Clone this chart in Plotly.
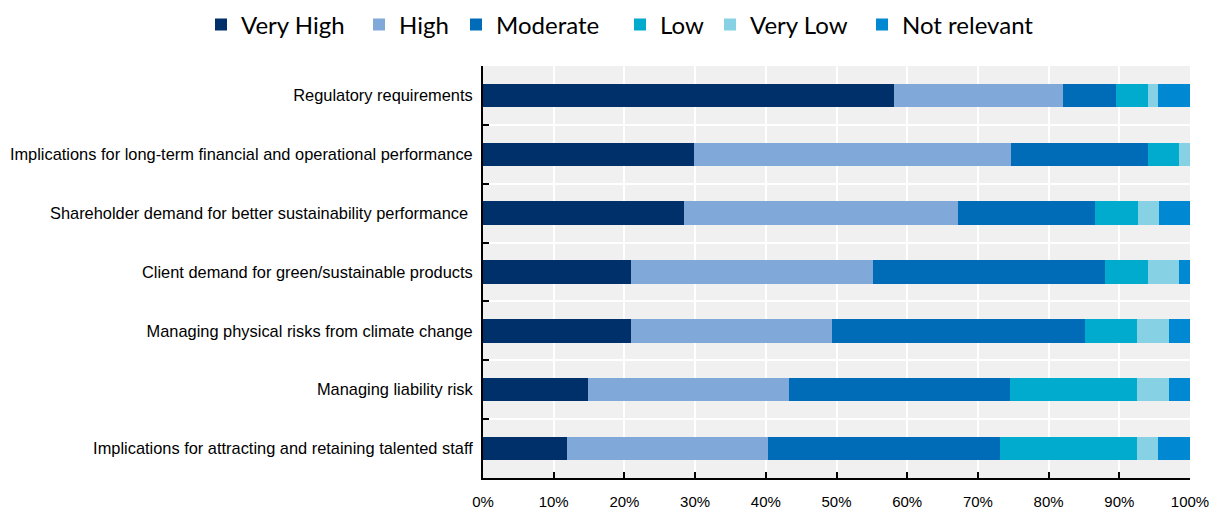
import plotly.graph_objects as go

# Drivers of sustainability integration, share of respondents (%)
categories = [
    "Regulatory requirements",
    "Implications for long-term financial and operational performance",
    "Shareholder demand for better sustainability performance ",
    "Client demand for green/sustainable products",
    "Managing physical risks from climate change",
    "Managing liability risk",
    "Implications for attracting and retaining talented staff",
]

very_high = [58.2, 29.9, 28.4, 20.9, 20.9, 14.9, 11.9]
high = [23.9, 44.8, 38.8, 34.3, 28.4, 28.4, 28.4]
moderate = [7.4, 19.4, 19.4, 32.8, 35.8, 31.3, 32.8]
low = [4.5, 4.4, 6.0, 6.0, 7.4, 17.9, 19.4]
very_low = [1.5, 1.5, 3.0, 4.5, 4.5, 4.5, 3.0]
not_relevant = [4.5, 0.0, 4.4, 1.5, 3.0, 3.0, 4.5]

series = [
    ("Very High", very_high, "#00306A"),
    ("High", high, "#80A8D9"),
    ("Moderate", moderate, "#006CB7"),
    ("Low", low, "#00ABCD"),
    ("Very Low", very_low, "#86D1E4"),
    ("Not relevant", not_relevant, "#0089D2"),
]

# Left edge (px) of each legend entry across the top of the figure
legend_left_px = [201, 359, 456, 620, 710, 862]

W, H = 1212, 511
M_L, M_R, M_T, M_B = 483, 22, 66, 33
plot_w = W - M_L - M_R
plot_h = H - M_T - M_B

label_font = "Liberation Sans, Arial, sans-serif"

fig = go.Figure()
legend_layouts = {}
for i, (name, values, color) in enumerate(series):
    key = "legend" if i == 0 else f"legend{i + 1}"
    fig.add_trace(go.Bar(
        name=name,
        x=values,
        y=categories,
        orientation="h",
        width=0.4,
        marker=dict(color=color, line=dict(width=0)),
        legend=key,
    ))
    legend_layouts[key] = dict(
        orientation="h",
        xref="paper",
        yref="paper",
        x=(legend_left_px[i] - M_L) / plot_w,
        xanchor="left",
        y=(H - M_B - 25) / plot_h,
        yanchor="middle",
        font=dict(family="Lato, Open Sans, sans-serif", size=24, color="#000000"),
        bgcolor="rgba(0,0,0,0)",
    )

fig.update_layout(
    barmode="stack",
    width=W,
    height=H,
    margin=dict(l=M_L, r=M_R, t=M_T, b=M_B, autoexpand=False),
    paper_bgcolor="white",
    plot_bgcolor="#F0F0F0",
    showlegend=True,
    xaxis=dict(
        range=[0, 100],
        dtick=10,
        ticksuffix="%",
        showgrid=True,
        gridcolor="white",
        gridwidth=2,
        zeroline=False,
        showline=True,
        linecolor="#000000",
        linewidth=2,
        ticks="inside",
        ticklen=6,
        tickwidth=2,
        tickcolor="#000000",
        ticklabelstandoff=9,
        ticklabeloverflow="allow",
        automargin=False,
        tickfont=dict(family=label_font, size=15, color="#000000"),
        fixedrange=True,
    ),
    yaxis=dict(
        autorange="reversed",
        tickson="boundaries",
        showgrid=True,
        gridcolor="white",
        gridwidth=2,
        showline=True,
        linecolor="#000000",
        linewidth=2,
        ticks="inside",
        ticklen=6,
        tickwidth=2,
        tickcolor="#000000",
        ticklabelstandoff=5,
        automargin=False,
        tickfont=dict(family=label_font, size=16.4, color="#000000"),
        fixedrange=True,
    ),
    **legend_layouts,
)

fig.write_html("out.html")
